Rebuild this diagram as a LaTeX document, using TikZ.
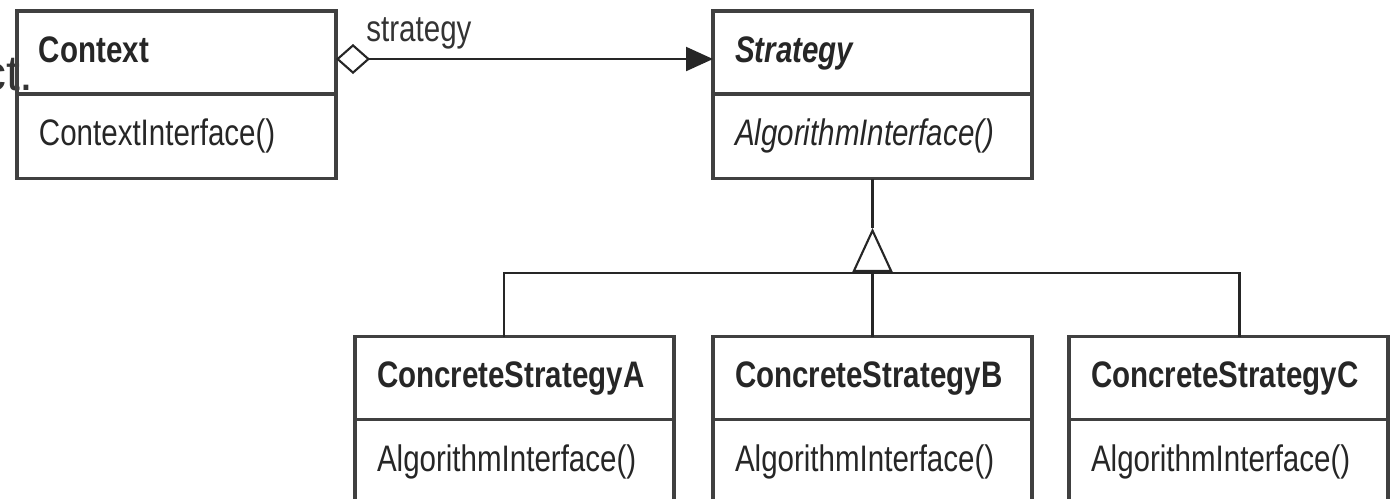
\documentclass[tikz,border=0pt]{standalone}
\usepackage{fontspec}
\setmainfont{Liberation Sans}
\newfontfamily\umlfont[FakeStretch=0.8]{Liberation Sans}
\usetikzlibrary{positioning,arrows.meta}

\begin{document}
\begin{tikzpicture}[
	box/.style={draw=black!75, line width=0.9pt, outer sep=0pt, inner xsep=0.22cm, inner ysep=0pt,
		text width=2.75cm, align=left, text height=0.26cm, text depth=0.07cm, text=black!85},
	classhead/.style={box, minimum height=0.83cm, font=\umlfont\fontsize{10.5}{12}\selectfont\bfseries},
	classmethod/.style={box, minimum height=0.845cm, font=\umlfont\fontsize{10.5}{12}\selectfont},
	link/.style={draw=black!85, line width=0.6pt},
	assoc/.style={link, {Diamond[open, length=0.34cm, width=0.30cm]}-{Triangle[length=0.27cm, width=0.24cm]}},
	gen/.style={link, -{Triangle[open, length=0.44cm, width=0.40cm]}}]
	\useasboundingbox (0,0) rectangle (13.98,-4.98);
	\clip (0,0) rectangle (13.98,-4.98);
	% clipped text on the left
	\node[anchor=base east, inner sep=0pt, text=black!80, font=\fontsize{14.2}{16}\selectfont] (frag) at (0.345,-0.90) {ct.};
	% context and strategy
	\node[classhead, anchor=north west] (ctx) at (0.17,-0.11) {Context};
	\node[classmethod, below=0pt of ctx] (ctxm) {ContextInterface()};
	\node[classhead, right=3.77cm of ctx] (strat) {\itshape Strategy};
	\node[classmethod, below=0pt of strat] (stratm) {\itshape AlgorithmInterface()};
	% concrete strategies
	\node[classhead, below=1.58cm of stratm] (concB) {ConcreteStrategyB};
	\node[classmethod, below=0pt of concB] (concBm) {AlgorithmInterface()};
	\node[classhead, left=0.39cm of concB] (concA) {ConcreteStrategyA};
	\node[classmethod, below=0pt of concA] (concAm) {AlgorithmInterface()};
	\node[classhead, right=0.37cm of concB] (concC) {ConcreteStrategyC};
	\node[classmethod, below=0pt of concC] (concCm) {AlgorithmInterface()};
	% connectors
	\draw[assoc] ([yshift=-0.065cm]ctx.east) -- node[pos=0.22, above=0.09cm, inner sep=0pt, text=black!80,
		font=\umlfont\fontsize{10.5}{12}\selectfont] (lbl) {strategy} ([yshift=-0.065cm]strat.west);
	\coordinate (fork) at (stratm.south |- 0,-2.73);
	\coordinate (apex) at (stratm.south |- 0,-2.28);
	\draw[gen] (fork) -- (apex);
	\draw[link] (apex) -- (stratm.south);
	\draw[link] ([xshift=-0.105cm]concA.north) |- (fork) -| ([xshift=0.11cm]concC.north);
	\draw[link] (fork) -- (concB.north);
\end{tikzpicture}
\end{document}
